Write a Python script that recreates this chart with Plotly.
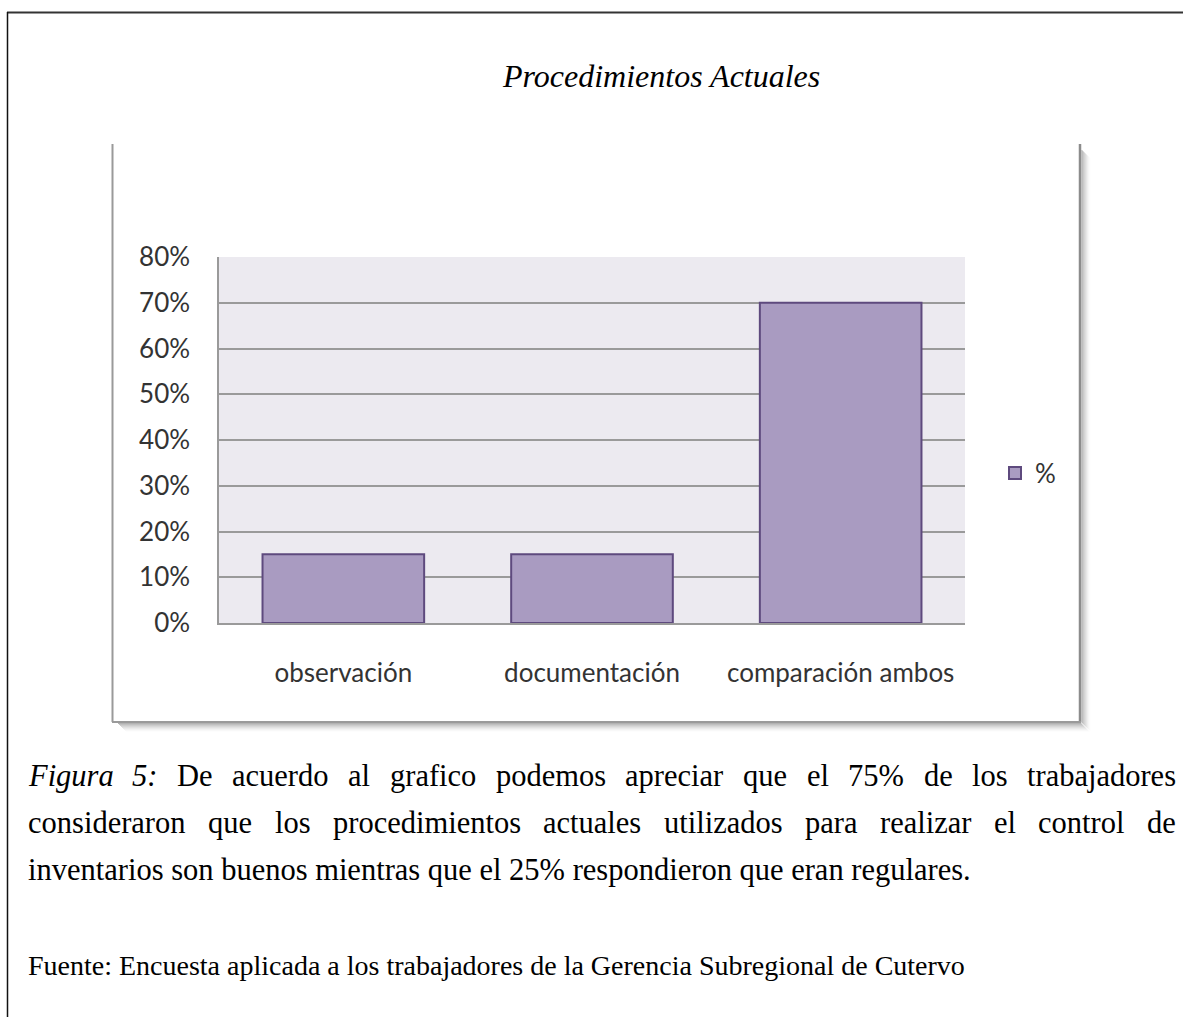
import plotly.graph_objects as go

W, H = 1183, 1017

categories = ["observación", "documentación", "comparación ambos"]
values = [0.15, 0.15, 0.70]
y_ticks = [0, 0.1, 0.2, 0.3, 0.4, 0.5, 0.6, 0.7, 0.8]

title = "Procedimientos Actuales"
caption_lines = [
    "<i>Figura 5:</i> De acuerdo al grafico podemos apreciar que el 75% de los trabajadores",
    "consideraron que los procedimientos actuales utilizados para realizar el control de",
    "inventarios son buenos mientras que el 25% respondieron que eran regulares.",
]
source = "Fuente: Encuesta aplicada a los trabajadores de la Gerencia Subregional de Cutervo"

# Times / Liberation Serif advance widths (1/1000 em), roman and italic
ROMAN = dict(zip("abcdefghijklmnopqrstuvwxyz", [444, 500, 444, 500, 444, 333, 500, 500, 278, 278, 500, 278, 778,
                                                 500, 500, 500, 500, 333, 389, 278, 500, 500, 722, 500, 500, 444]))
ROMAN.update({"%": 833, ":": 278, ".": 250, "D": 722, " ": 250})
ROMAN.update({d: 500 for d in "0123456789"})
ITALIC = dict(ROMAN)
ITALIC.update({"F": 611, "r": 389, "a": 500, ":": 333})


def word_width(word, size):
    italic = word.startswith("<i>")
    w = word.replace("<i>", "").replace("</i>", "")
    table = ITALIC if italic else ROMAN
    return sum(table.get(c, 500) for c in w) / 1000 * size


def px(x):
    return x / W


def py(y):
    return 1 - y / H


fig = go.Figure(go.Bar(
    x=categories, y=values, name="%",
    marker=dict(color="#A99BC1", line=dict(color="#5E4A7E", width=2)),
))

fig.update_layout(
    width=W, height=H,
    margin=dict(l=0, r=0, t=0, b=0, autoexpand=False),
    paper_bgcolor="white",
    plot_bgcolor="#ECEAF0",
    bargap=0.35,
    showlegend=True,
    legend=dict(x=px(995), y=py(473), xanchor="left", yanchor="middle",
                font=dict(family="Lato", size=26, color="#333333"),
                bgcolor="rgba(0,0,0,0)"),
    xaxis=dict(domain=[px(219), px(965)], showgrid=False, showline=True, automargin=False,
               linecolor="#9a9a9a", linewidth=1.5, ticks="outside", ticklen=26,
               tickcolor="rgba(0,0,0,0)",
               tickfont=dict(family="Lato", size=26, color="#333333")),
    yaxis=dict(domain=[py(623), py(257)], range=[0, 0.8], tickvals=y_ticks, automargin=False,
               tickformat=".0%", showgrid=True, gridcolor="#9a9a9a", gridwidth=1.5,
               showline=True, linecolor="#9a9a9a", linewidth=1.5, zeroline=False,
               ticks="outside", ticklen=22, tickcolor="rgba(0,0,0,0)",
               tickfont=dict(family="Lato", size=26, color="#333333")),
)

P = dict(xref="paper", yref="paper")
shapes = [
    # page border
    dict(type="line", x0=px(7), x1=1, y0=py(12.5), y1=py(12.5), line=dict(color="#333333", width=2), **P),
    dict(type="line", x0=px(7.5), x1=px(7.5), y0=py(12), y1=0, line=dict(color="#111111", width=1.5), **P),
    # chart frame
    dict(type="line", x0=px(112.5), x1=px(112.5), y0=py(144), y1=py(722),
         line=dict(color="#9a9a9a", width=2), **P),
    dict(type="line", x0=px(1080), x1=px(1080), y0=py(144), y1=py(722),
         line=dict(color="#8c8c8c", width=2.5), **P),
    dict(type="line", x0=px(112), x1=px(1081), y0=py(722), y1=py(722),
         line=dict(color="#9a9a9a", width=2), **P),
]
# soft shadow on right and bottom of the frame
for k in range(9):
    a = 0.30 * (1 - k / 9) ** 1.6
    col = f"rgba(0,0,0,{a:.3f})"
    shapes.append(dict(type="rect", x0=px(1081.5 + k), x1=px(1082.5 + k), y0=py(150 + k), y1=py(723 + k),
                       line=dict(width=0), fillcolor=col, **P))
    shapes.append(dict(type="rect", x0=px(118 + k), x1=px(1081.5 + k), y0=py(723 + k), y1=py(724 + k),
                       line=dict(width=0), fillcolor=col, **P))
fig.update_layout(shapes=shapes)

serif = "Liberation Serif"
annotations = [dict(text=f"<i>{title}</i>", x=px(661), y=py(76), xanchor="center", yanchor="middle",
                    showarrow=False, font=dict(family=serif, size=32, color="black"), **P)]

# caption: first two lines justified between left and right margins
left, right, size = 27, 1175, 30.5
line_y = [776, 823, 870]
for i, line in enumerate(caption_lines):
    if i < 2:
        words = line.replace("<i>Figura 5:</i>", "<i>Figura</i> <i>5:</i>").split(" ")
        widths = [word_width(w, size) for w in words]
        gap = (right - left - sum(widths)) / (len(words) - 1)
        x = left
        for w, ww in zip(words, widths):
            annotations.append(dict(text=w, x=px(x), y=py(line_y[i]), xanchor="left", yanchor="middle",
                                    showarrow=False, borderpad=0,
                                    font=dict(family=serif, size=size, color="black"), **P))
            x += ww + gap
    else:
        annotations.append(dict(text=line, x=px(left), y=py(line_y[i]), xanchor="left", yanchor="middle",
                                showarrow=False, borderpad=0,
                                font=dict(family=serif, size=size, color="black"), **P))

annotations.append(dict(text=source, x=px(left), y=py(965), xanchor="left", yanchor="middle",
                        showarrow=False, borderpad=0,
                        font=dict(family=serif, size=28, color="black"), **P))
fig.update_layout(annotations=annotations)

fig.write_html("out.html", config={"displayModeBar": False},
               post_script="document.body.style.margin='0';")
